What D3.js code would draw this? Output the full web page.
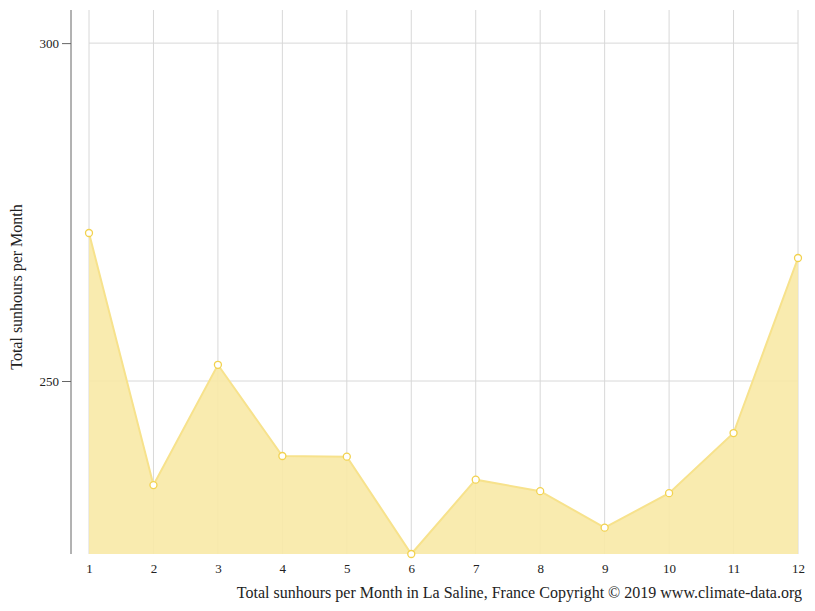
<!DOCTYPE html>
<html>
<head>
<meta charset="utf-8">
<script src="https://cdn.jsdelivr.net/npm/d3@7"></script>
<style>
  body { margin: 0; background: #fff; }
  text { font-family: "Liberation Serif", "DejaVu Serif", serif; }
</style>
</head>
<body>
<div id="chart"></div>
<script>
const months = [1, 2, 3, 4, 5, 6, 7, 8, 9, 10, 11, 12];
const sunHours = [271.9, 234.6, 252.4, 238.9, 238.8, 224.4, 235.4, 233.7, 228.3, 233.4, 242.3, 268.2];
const yTicks = [250, 300];

const width = 815, height = 611;
const plotLeft = 71, plotTop = 10, plotBottom = 554;

const svg = d3.select('#chart').append('svg')
  .attr('width', width)
  .attr('height', height);

const x = d3.scalePoint().domain(months).range([89, 798]);
const y = d3.scaleLinear().domain([224.4, 304.9]).range([plotBottom, plotTop]);

// grid
svg.append('g').selectAll('line').data(months).enter().append('line')
  .attr('x1', d => x(d)).attr('x2', d => x(d))
  .attr('y1', plotTop).attr('y2', plotBottom)
  .attr('stroke', '#d8d8d8');
svg.append('g').selectAll('line').data(yTicks).enter().append('line')
  .attr('x1', 89).attr('x2', 798)
  .attr('y1', d => y(d)).attr('y2', d => y(d))
  .attr('stroke', '#d8d8d8');

// area + line
svg.append('path').datum(sunHours)
  .attr('fill', '#f8e9a6').attr('fill-opacity', 0.9)
  .attr('d', d3.area().x((d, i) => x(months[i])).y0(plotBottom).y1(d => y(d)));
svg.append('path').datum(sunHours)
  .attr('fill', 'none').attr('stroke', '#f7e28c').attr('stroke-width', 2)
  .attr('d', d3.line().x((d, i) => x(months[i])).y(d => y(d)));
svg.append('g').selectAll('circle').data(sunHours).enter().append('circle')
  .attr('cx', (d, i) => x(months[i])).attr('cy', d => y(d)).attr('r', 3.5)
  .attr('fill', '#fff').attr('stroke', '#f2d24f').attr('stroke-width', 1.3);

// y axis
const yAxis = d3.axisLeft(y).tickValues(yTicks).tickSize(9).tickPadding(3);
const yg = svg.append('g').attr('transform', `translate(${plotLeft},0)`).call(yAxis);
yg.select('.domain').attr('stroke', '#666').attr('d', `M0,${plotTop}V${plotBottom}`);
yg.selectAll('.tick line').attr('stroke', '#666');
yg.selectAll('.tick text').attr('font-size', 13).attr('fill', '#222');

// x axis labels
const xAxis = d3.axisBottom(x).tickSize(0).tickPadding(10);
const xg = svg.append('g').attr('transform', `translate(0,${plotBottom})`).call(xAxis);
xg.select('.domain').remove();
xg.selectAll('.tick text').attr('font-size', 13).attr('fill', '#222');

svg.append('text')
  .attr('transform', `translate(22,${(plotTop + plotBottom) / 2 + 5}) rotate(-90)`)
  .attr('text-anchor', 'middle').attr('font-size', 16).attr('fill', '#222')
  .text('Total sunhours per Month');

svg.append('text')
  .attr('x', 802).attr('y', 598)
  .attr('text-anchor', 'end').attr('font-size', 16).attr('fill', '#222')
  .text('Total sunhours per Month in La Saline, France Copyright © 2019 www.climate-data.org');
</script>
</body>
</html>
